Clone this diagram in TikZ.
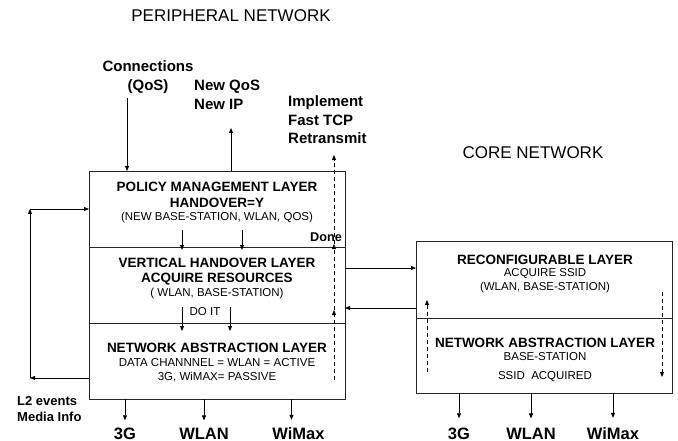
\documentclass[tikz,border=0pt]{standalone}
\usepackage{fontspec}
\setmainfont{Liberation Sans}
\usetikzlibrary{arrows.meta,positioning,calc}

\begin{document}
\begin{tikzpicture}[x=1pt,y=-1pt, every node/.style={align=center,inner sep=0pt}, layer/.style={draw=black!85,line width=0.8pt,outer sep=0pt,minimum width=256pt,minimum height=76pt}, hd/.style={font=\bfseries\fontsize{13.5}{15.5}\selectfont}, sm/.style={font=\fontsize{11.5}{14}\selectfont}, lbl/.style={font=\bfseries\fontsize{15}{18.5}\selectfont}, ttl/.style={font=\fontsize{17}{20}\selectfont}, bot/.style={font=\bfseries\fontsize{16.5}{20}\selectfont,anchor=base}, a/.style={-{Triangle[length=5pt,width=4pt]},line width=0.8pt}, dsh/.style={a,dash pattern=on 4pt off 3pt}]
\useasboundingbox (0,0) rectangle (678,441);
\node[ttl] (periph) at (231,16) {PERIPHERAL NETWORK};
\node[ttl] (core) at (533,153) {CORE NETWORK};
\node[layer] (pml) at (217,209) {};
\node[layer,below=0pt of pml] (vhl) {};
\node[layer,below=0pt of vhl] (nal) {};
\node[layer,minimum height=77pt] (rcl) at (544,279.5) {};
\node[layer,minimum height=75pt,below=0pt of rcl] (rnal) {};
\node[hd] (pmlH) at (217,195) {POLICY MANAGEMENT LAYER\\HANDOVER=Y};
\node[sm] (pmlS) at (217,218) {(NEW BASE-STATION, WLAN, QOS)};
\node[hd] (vhlH) at (217,271.5) {VERTICAL HANDOVER LAYER\\ACQUIRE RESOURCES};
\node[sm] (vhlS) at (217,294) {( WLAN, BASE-STATION)};
\node[sm] (doit) at (205,312) {DO IT};
\node[hd] (nalH) at (217,348) {NETWORK ABSTRACTION LAYER};
\node[sm] (nalS) at (217,370) {DATA CHANNNEL = WLAN = ACTIVE\\3G, WiMAX= PASSIVE};
\node[hd] (rclH) at (545,260) {RECONFIGURABLE LAYER};
\node[sm] (rclS) at (545,281) {ACQUIRE SSID\\(WLAN, BASE-STATION)};
\node[hd] (rnalH) at (545,343) {NETWORK ABSTRACTION LAYER};
\node[sm] (rnalS) at (545,367.5) {BASE-STATION\\[5pt]SSID\ \ ACQUIRED};
\node[lbl] (conn) at (148,77) {Connections\\(QoS)};
\node[lbl,align=left,anchor=west] (nqos) at (194,95) {New QoS\\New IP};
\node[lbl,align=left,anchor=west] (impl) at (288,120) {Implement\\Fast TCP\\Retransmit};
\node[font=\bfseries\fontsize{12.7}{15}\selectfont] (done) at (326,237) {Done};
\node[font=\bfseries\fontsize{13}{16}\selectfont,align=left,anchor=west] (l2) at (17,409.5) {L2 events\\Media Info};
\node[bot] (lg3) at (125,439) {3G};
\node[bot] (lwlan) at (204,439) {WLAN};
\node[bot] (lwmx) at (298.5,439) {WiMax};
\node[bot] (rg3) at (459,439) {3G};
\node[bot] (rwlan) at (531,439) {WLAN};
\node[bot] (rwmx) at (613,439) {WiMax};
\coordinate (cIn) at ($(conn.south)+(-21,5)$);
\coordinate (qOut) at ($(pml.north)+(14,-43)$);
\draw[a] (cIn) -- (cIn |- pml.north);
\draw[a] (qOut |- pml.north) -- (qOut);
\foreach \dx in {-35,25} \draw[a] ($(pml.south)+(\dx,-17)$) -- ($(pml.south)+(\dx,3)$);
\foreach \dx in {-35,13} \draw[a] ($(vhl.south)+(\dx,-16)$) -- ($(vhl.south)+(\dx,8)$);
\coordinate (dA) at ($(nal.south east)+(-11,-19)$);
\coordinate (dB) at ($(vhl.south east)+(-11,-13)$);
\coordinate (dC) at ($(pml.south east)+(-11,-3)$);
\coordinate (dD) at ($(pml.north east)+(-11,-16)$);
\draw[dsh] (dA) -- (dB);\draw[dsh] (dB) -- (dC);\draw[dsh] (dC) -- (dD);
\draw[dsh] ($(rnal.south west)+(11,-21)$) -- ($(rcl.south west)+(11,-18)$);
\draw[dsh] ($(rcl.south east)+(-10,-26)$) -- ($(rnal.south east)+(-10,-16)$);
\draw[a] ($(vhl.east)+(0,-17)$) -- ($(rcl.west)+(0,-11.5)$);
\draw[a] ($(rcl.west)+(0,28.5)$) -- ($(vhl.east)+(0,23)$);
\coordinate (lp1) at ($(nal.west)+(-59,17)$);
\coordinate (lp2) at (lp1 |- pml.west);
\draw[a] ($(nal.west)+(0,17)$) -- (lp1);\draw[a] (lp1) -- (lp2);\draw[a] (lp2) -- (pml.west);
\draw[a] (nal.south -| lg3) -- ($(lg3.north)+(0,-7)$);
\draw[a] (nal.south -| lwlan) -- ($(lwlan.north)+(0,-7)$);
\draw[a] ($(nal.south -| lwmx)+(-7,0)$) -- ($(lwmx.north)+(-7,-7)$);
\draw[a] (rnal.south -| rg3) -- ($(rg3.north)+(0,-9)$);
\draw[a] (rnal.south -| rwlan) -- ($(rwlan.north)+(0,-9)$);
\draw[a] (rnal.south -| rwmx) -- ($(rwmx.north)+(0,-9)$);
\end{tikzpicture}
\end{document}
